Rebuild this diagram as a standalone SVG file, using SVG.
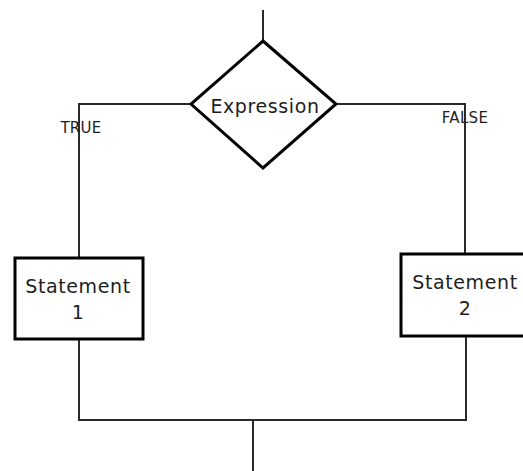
<svg xmlns="http://www.w3.org/2000/svg" width="523" height="471" viewBox="0 0 523 471">
<style>
.conn{fill:none;stroke:#2a2a2a;stroke-width:2}
.shape{fill:#fff;stroke:#000;stroke-width:3}
.t{font-family:"DejaVu Sans","Liberation Sans",sans-serif;fill:#1e1e1e;text-anchor:middle}
.big{font-size:19px;letter-spacing:0.6px}
.small{font-size:15px;letter-spacing:0.3px}
</style>
<rect width="523" height="471" fill="#fff"/>
<g id="connectors">
<line class="conn" x1="263" y1="10" x2="263" y2="41"/>
<polyline class="conn" points="191,104 79,104 79,258"/>
<polyline class="conn" points="336,104 465,104 465,254"/>
<polyline class="conn" points="79,339 79,420 466,420 466,336"/>
<line class="conn" x1="253" y1="420" x2="253" y2="471"/>
</g>
<g id="expression">
<polygon class="shape" points="263,41 336,104 263,168 191,104"/>
<text class="t big" x="265" y="113">Expression</text>
</g>
<g id="true-label"><text class="t small" x="81" y="133">TRUE</text></g>
<g id="false-label"><text class="t small" x="465" y="123">FALSE</text></g>
<g id="statement1">
<rect class="shape" x="15" y="258" width="128" height="81"/>
<text class="t big" x="78" y="293">Statement</text>
<text class="t big" x="78" y="319">1</text>
</g>
<g id="statement2">
<rect class="shape" x="401" y="254" width="125" height="82"/>
<text class="t big" x="465" y="289">Statement</text>
<text class="t big" x="465" y="315">2</text>
</g>
</svg>
